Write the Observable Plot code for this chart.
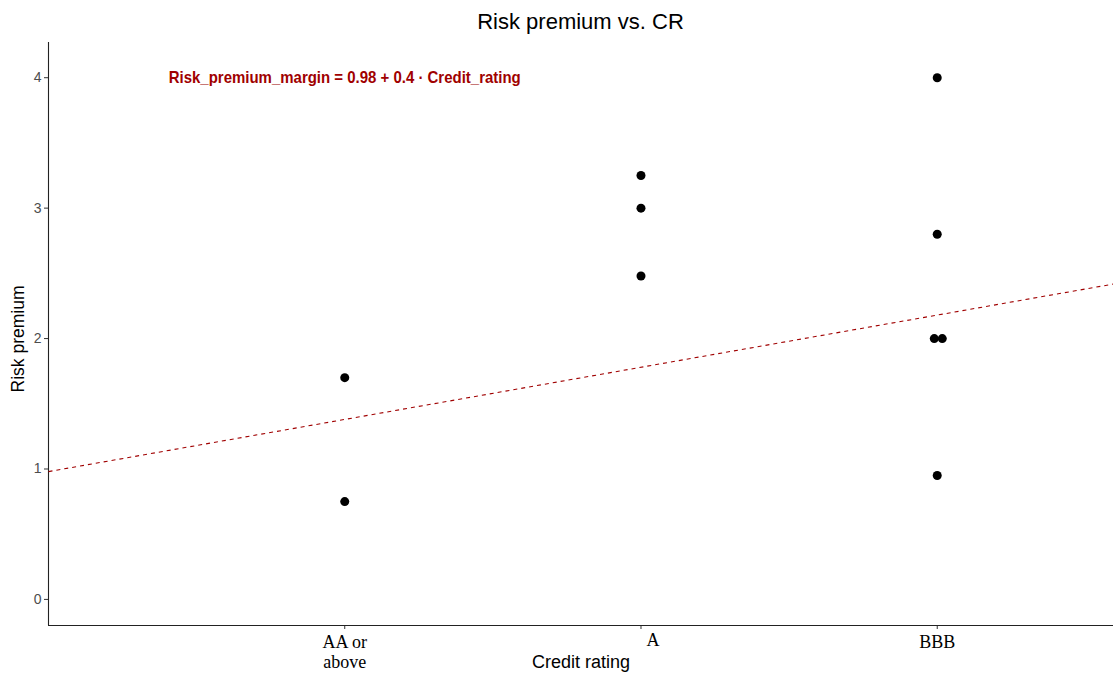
<!DOCTYPE html>
<html>
<head>
<meta charset="utf-8">
<script src="https://cdn.jsdelivr.net/npm/d3@7"></script>
<script src="https://cdn.jsdelivr.net/npm/@observablehq/plot@0.6"></script>
<style>
  html, body { margin: 0; padding: 0; background: #fff; }
  #wrap { width: 1113px; font-family: "Liberation Sans", Arial, sans-serif; }
  #title {
    height: 38px; line-height: 44px; font-size: 22px; color: #000;
    margin-left: 48px; width: 1065px; text-align: center; white-space: nowrap;
  }
</style>
</head>
<body>
<div id="wrap">
  <div id="title">Risk premium vs. CR</div>
  <div id="chart"></div>
</div>
<script>
// Credit rating categories (coded 1, 2, 3 on the x axis)
const ratingLabels = ["AA or\nabove", "A", "BBB"];
const ratingCodes = [1, 2, 3];

// Observations: credit rating code and risk premium
const obsRating = [1, 1, 2, 2, 2, 3, 3, 3, 3, 3];
const obsPremium = [1.7, 0.75, 3.25, 3.0, 2.48, 4.0, 2.8, 2.0, 2.0, 0.95];
// small horizontal jitter so the tied BBB points stay visible
const obsJitter = [0, 0, 0, 0, 0, 0, 0, -0.01, 0.017, 0];

// Fitted model: Risk_premium_margin = intercept + slope * Credit_rating
const intercept = 0.98;
const slope = 0.4;

const yTicks = [0, 1, 2, 3, 4];
const xDomain = [0, 3.595];
const yDomain = [-0.2, 4.27];

const points = obsRating.map((r, i) => ({x: r + obsJitter[i], premium: obsPremium[i]}));
const fit = [{x1: xDomain[0], y1: intercept + slope * xDomain[0], x2: xDomain[1], y2: intercept + slope * xDomain[1]}];
const equation = `Risk_premium_margin = ${intercept} + ${slope} · Credit_rating`;

const lineCol = "#222";
const fitCol = "#a00000";

const chart = Plot.plot({
  width: 1113,
  height: 637,
  marginTop: 4,
  marginRight: 0,
  marginBottom: 50,
  marginLeft: 48,
  style: {fontFamily: "'Liberation Sans', Arial, sans-serif", background: "#fff", overflow: "visible"},
  x: {domain: xDomain, axis: null},
  y: {domain: yDomain, axis: null},
  marks: [
    // y axis ticks and labels
    Plot.axisY(yTicks, {tickSize: 4, tickPadding: 3, fontSize: 14, tickFormat: d => String(d), fill: "#4d4d4d", stroke: "#333", label: null}),
    // x axis tick marks
    Plot.axisX(ratingCodes, {tickSize: 4, tickFormat: () => "", stroke: "#333", label: null}),
    // axis lines
    Plot.ruleX([xDomain[0]], {stroke: lineCol, strokeWidth: 1.1}),
    Plot.ruleY([yDomain[0]], {stroke: lineCol, strokeWidth: 1.1}),
    // category labels
    Plot.text([0, 2], {
      x: i => ratingCodes[i], text: i => ratingLabels[i],
      frameAnchor: "bottom", lineAnchor: "top", dy: 8,
      fontFamily: "'Liberation Serif', 'Times New Roman', serif", fontSize: 18, lineHeight: 1.11, fill: "#000"
    }),
    Plot.text([1], {
      x: i => ratingCodes[i], text: i => ratingLabels[i],
      frameAnchor: "bottom", lineAnchor: "top", dy: 8, dx: 12,
      fontFamily: "'Liberation Serif', 'Times New Roman', serif", fontSize: 18, fill: "#000"
    }),
    // axis titles
    Plot.text(["Credit rating"], {frameAnchor: "bottom", lineAnchor: "middle", dy: 36.5, fontSize: 18, fill: "#000"}),
    Plot.text(["Risk premium"], {frameAnchor: "left", textAnchor: "middle", lineAnchor: "middle", rotate: -90, dx: -30, dy: 5, fontSize: 17.5, fill: "#000"}),
    // fitted regression line
    Plot.link(fit, {x1: "x1", y1: "y1", x2: "x2", y2: "y2", stroke: fitCol, strokeWidth: 1.1, strokeDasharray: "4,4"}),
    // observations
    Plot.dot(points, {x: "x", y: "premium", r: 4.5, fill: "#000", stroke: "none"}),
    // model equation
    Plot.text([equation], {x: ratingCodes[0], y: yTicks[4], text: d => d, textAnchor: "middle", lineAnchor: "middle",
      fontSize: 17, fontWeight: "bold", fill: fitCol})
  ]
});

document.getElementById("chart").appendChild(chart);

// fit the equation text to its set width
d3.select(chart).selectAll("text")
  .filter(function() { return this.textContent === equation; })
  .attr("textLength", 352)
  .attr("lengthAdjust", "spacingAndGlyphs");
</script>
</body>
</html>
